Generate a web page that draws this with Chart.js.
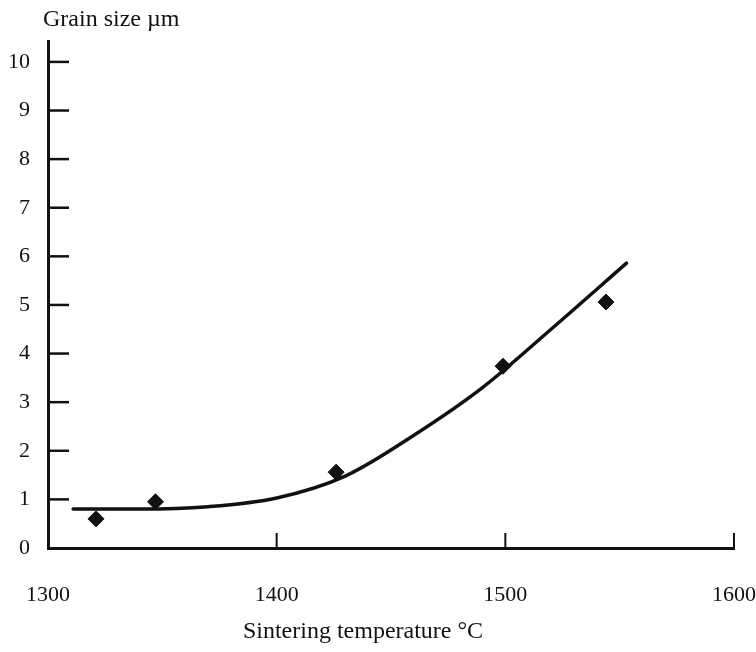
<!DOCTYPE html>
<html>
<head>
<meta charset="utf-8">
<title>Grain size vs sintering temperature</title>
<script src="https://cdn.jsdelivr.net/npm/chart.js"></script>
<style>
  html, body { margin: 0; padding: 0; background: #fff; }
  canvas { display: block; }
</style>
</head>
<body>
<canvas id="chart" width="756" height="652"></canvas>
<script>
// measured points
const tempC = [1321, 1347, 1426, 1499, 1544];
const grainUm = [0.6, 0.95, 1.56, 3.74, 5.06];
// fitted curve
const fitTemp = [1311, 1340, 1370, 1400, 1430, 1460, 1490, 1520, 1553];
const fitUm = [0.8, 0.8, 0.85, 1.03, 1.48, 2.32, 3.3, 4.5, 5.86];
// axis ticks
const xTicks = [1300, 1400, 1500, 1600];
const yTicks = [0, 1, 2, 3, 4, 5, 6, 7, 8, 9, 10];

const ink = "#111";
const serif = "'Liberation Serif', 'DejaVu Serif', serif";

const innerTicks = {
	id: "innerTicks",
	afterDraw(chart) {
		const { ctx, scales: { x, y } } = chart;
		ctx.save();
		ctx.strokeStyle = ink;
		ctx.lineWidth = 2.5;
		yTicks.filter((v) => v > 0).forEach((v) => {
			const py = y.getPixelForValue(v);
			ctx.beginPath();
			ctx.moveTo(x.left, py);
			ctx.lineTo(x.left + 21, py);
			ctx.stroke();
		});
		ctx.lineWidth = 2;
		xTicks.filter((v) => v > xTicks[0]).forEach((v) => {
			const px = x.getPixelForValue(v);
			ctx.beginPath();
			ctx.moveTo(px, y.bottom);
			ctx.lineTo(px, y.bottom - 15);
			ctx.stroke();
		});
		ctx.fillStyle = ink;
		ctx.font = "24px " + serif;
		ctx.textBaseline = "middle";
		ctx.textAlign = "left";
		ctx.fillText("Grain size \u00b5m", x.left - 5, 20);
		ctx.textAlign = "center";
		ctx.fillText("Sintering temperature \u00b0C", x.left + 315, y.bottom + 84);
		ctx.restore();
	}
};

new Chart(document.getElementById("chart"), {
	type: "scatter",
	data: {
		datasets: [
			{
				data: fitTemp.map((t, i) => ({ x: t, y: fitUm[i] })),
				showLine: true,
				borderColor: ink,
				borderWidth: 3.5,
				borderCapStyle: "round",
				cubicInterpolationMode: "monotone",
				pointRadius: 0
			},
			{
				data: tempC.map((t, i) => ({ x: t, y: grainUm[i] })),
				pointStyle: "rectRot",
				pointRadius: 8,
				backgroundColor: ink,
				borderColor: ink,
				borderWidth: 1
			}
		]
	},
	options: {
		responsive: false,
		animation: false,
		devicePixelRatio: 1,
		layout: { padding: { left: 0, right: 0, top: 41, bottom: 0 } },
		plugins: { legend: { display: false }, tooltip: { enabled: false } },
		scales: {
			x: {
				type: "linear",
				min: 1300,
				max: 1600,
				afterBuildTicks: (s) => { s.ticks = xTicks.map((v) => ({ value: v })); },
				afterFit: (s) => { s.height = 104; },
				grid: { display: false, drawTicks: false },
				border: { display: true, color: ink, width: 3 },
				// tall line height pushes the labels down without widening the side padding
				ticks: { color: ink, padding: 0, font: { family: serif, size: 22, lineHeight: "94px" }, callback: (v) => String(v) }
			},
			y: {
				type: "linear",
				min: 0,
				max: 10.43,
				afterBuildTicks: (s) => { s.ticks = yTicks.map((v) => ({ value: v })); },
				afterFit: (s) => { s.width = 48; },
				grid: { display: false, drawTicks: false },
				border: { display: true, color: ink, width: 3 },
				ticks: { color: ink, padding: 18, font: { family: serif, size: 22 }, callback: (v) => String(v) }
			}
		}
	},
	plugins: [innerTicks]
});
</script>
</body>
</html>
